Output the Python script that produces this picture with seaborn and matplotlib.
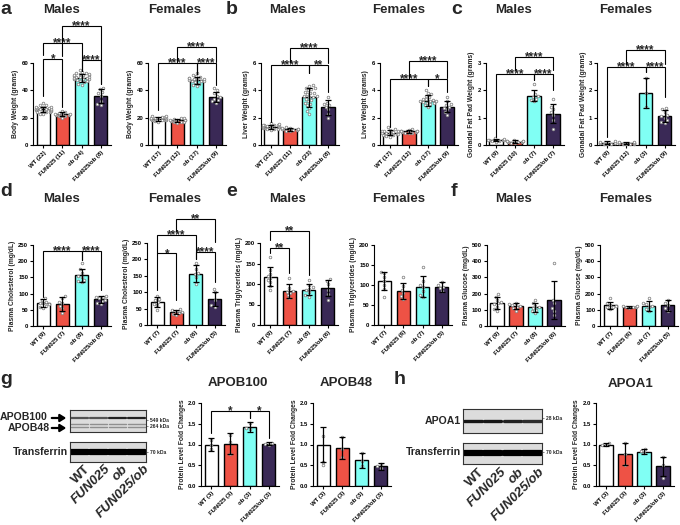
import warnings
warnings.filterwarnings("ignore")
import numpy as np
import pandas as pd
import matplotlib
matplotlib.use("Agg")
import matplotlib.pyplot as plt
import seaborn as sns

sns.set_theme(style="ticks")
plt.rcParams['font.family'] = ['Liberation Sans', 'DejaVu Sans']
plt.rcParams['font.weight'] = 'bold'
plt.rcParams['axes.labelweight'] = 'bold'

# ---------------- data ----------------
groups = ["WT", "FUN025", "ob", "FUN025/ob"]
palette = ["#FFFFFF", "#EE5245", "#80FFF4", "#3A2956"]

# a: body weight (grams)
bw_m_mean = [26, 22.5, 49, 36]
bw_m_sd = [2, 1.6, 2.8, 5]
bw_m_pts = [[22.5, 23, 24, 24, 24.5, 25, 25, 25.5, 25.5, 26, 26, 26, 26.5, 26.5, 27, 27, 27.5, 28, 28, 29, 29.5, 31],
            [20, 21, 21.5, 22, 22, 22.5, 23, 23, 23.5, 24, 25],
            [44, 45, 46, 46.5, 47, 47.5, 48, 48, 48.5, 49, 49, 49.5, 50, 50, 50.5, 51, 51, 51.5, 52, 52, 52.5, 53, 53.5, 55],
            [29, 30, 32, 36, 38, 39, 41, 42]]
bw_f_mean = [19, 18, 47.5, 35]
bw_f_sd = [1.3, 1.3, 2.5, 3.5]
bw_f_pts = [[17, 17.5, 18, 18, 18.5, 18.5, 19, 19, 19, 19.5, 19.5, 20, 20, 20.5, 20.5, 21, 21],
            [16, 16.5, 17, 17, 17.5, 18, 18, 18.5, 18.5, 19, 19.5, 20],
            [43, 44, 45, 46, 46.5, 47, 47, 47.5, 48, 48, 48.5, 49, 49, 50, 50.5, 51, 53],
            [31, 32, 33, 34, 35, 36, 38, 40, 42]]
# b: liver weight (grams)
lw_m_mean = [1.35, 1.15, 3.5, 2.75]
lw_m_sd = [0.15, 0.12, 0.7, 0.55]
lw_m_pts = [[1.1, 1.15, 1.2, 1.2, 1.25, 1.25, 1.3, 1.3, 1.3, 1.35, 1.35, 1.35, 1.4, 1.4, 1.4, 1.45, 1.45, 1.5, 1.5, 1.55, 1.6],
            [1.0, 1.05, 1.1, 1.1, 1.15, 1.15, 1.2, 1.2, 1.25, 1.25, 1.3],
            [2.3, 2.5, 2.7, 2.9, 3.0, 3.1, 3.2, 3.3, 3.4, 3.5, 3.5, 3.6, 3.6, 3.7, 3.8, 3.8, 3.9, 4.0, 4.1, 4.2, 4.2, 4.3, 4.4],
            [2.0, 2.3, 2.6, 2.8, 2.9, 3.0, 3.1, 3.5]]
lw_f_mean = [0.9, 1.0, 3.25, 2.8]
lw_f_sd = [0.2, 0.12, 0.4, 0.4]
lw_f_pts = [[0.6, 0.65, 0.7, 0.75, 0.8, 0.8, 0.85, 0.9, 0.9, 0.95, 0.95, 1.0, 1.0, 1.05, 1.1, 1.15, 1.3],
            [0.85, 0.9, 0.9, 0.95, 0.95, 1.0, 1.0, 1.0, 1.05, 1.05, 1.1, 1.15],
            [2.8, 2.9, 3.0, 3.05, 3.1, 3.15, 3.2, 3.2, 3.25, 3.3, 3.35, 3.4, 3.5, 3.6, 3.7, 3.8, 4.0],
            [2.2, 2.4, 2.6, 2.7, 2.8, 2.9, 3.0, 3.2, 3.5]]
# c: gonadal fat pad weight (grams)
gf_m_mean = [0.18, 0.12, 1.8, 1.15]
gf_m_sd = [0.05, 0.05, 0.2, 0.35]
gf_m_pts = [[0.12, 0.14, 0.15, 0.17, 0.18, 0.19, 0.2, 0.22, 0.24],
            [0.06, 0.08, 0.1, 0.11, 0.12, 0.13, 0.14, 0.15, 0.16, 0.18],
            [1.6, 1.65, 1.7, 1.75, 1.8, 1.85, 2.25],
            [0.6, 0.9, 1.1, 1.2, 1.3, 1.4, 1.7]]
gf_f_mean = [0.08, 0.07, 1.9, 1.05]
gf_f_sd = [0.05, 0.04, 0.55, 0.22]
gf_f_pts = [[0.03, 0.04, 0.05, 0.06, 0.07, 0.08, 0.09, 0.11, 0.14],
            [0.03, 0.04, 0.05, 0.05, 0.06, 0.06, 0.07, 0.07, 0.08, 0.09, 0.1, 0.12],
            [1.38, 1.9, 2.45],
            [0.8, 0.85, 0.9, 1.0, 1.05, 1.1, 1.2, 1.3, 1.35]]
# d: plasma cholesterol (mg/dL)
ch_m_mean = [70, 68, 157, 82]
ch_m_sd = [12, 22, 20, 10]
ch_m_pts = [[55, 60, 63, 67, 70, 72, 75, 80, 85],
            [40, 55, 62, 70, 75, 85, 93],
            [135, 138, 142, 150, 155, 165, 175, 195],
            [68, 72, 78, 80, 85, 88, 90, 93]]
ch_f_mean = [70, 40, 157, 80]
ch_f_sd = [15, 7, 25, 22]
ch_f_pts = [[45, 60, 65, 70, 75, 80, 88],
            [30, 33, 38, 40, 43, 45, 48],
            [125, 145, 155, 160, 170, 190],
            [55, 60, 75, 100, 110]]
# e: plasma triglycerides (mg/dL)
tg_m_mean = [118, 83, 86, 90]
tg_m_sd = [23, 17, 13, 20]
tg_m_pts = [[85, 95, 105, 110, 115, 120, 125, 135, 165],
            [65, 72, 78, 80, 82, 90, 115],
            [68, 72, 80, 85, 88, 92, 98, 110],
            [60, 75, 85, 100, 108, 112]]
tg_f_mean = [110, 85, 96, 95]
tg_f_sd = [23, 21, 26, 12]
tg_f_pts = [[70, 90, 100, 110, 120, 130, 133],
            [65, 72, 80, 88, 98, 120],
            [70, 75, 85, 95, 100, 110, 145],
            [85, 92, 95, 100, 108]]
# f: plasma glucose (mg/dL)
gl_m_mean = [142, 122, 115, 160]
gl_m_sd = [40, 20, 30, 115]
gl_m_pts = [[95, 105, 120, 135, 140, 150, 160, 180, 195],
            [95, 110, 120, 125, 130, 135, 145],
            [80, 90, 100, 110, 115, 125, 140, 160],
            [70, 95, 110, 140, 160, 390]]
gl_f_mean = [128, 118, 125, 128]
gl_f_sd = [22, 8, 30, 35]
gl_f_pts = [[105, 115, 120, 125, 130, 140, 170],
            [110, 115, 118, 120, 122, 125],
            [90, 105, 120, 125, 135, 140, 175],
            [95, 110, 130, 145, 160]]
# g/h: protein level fold changes
apob100_mean = [1.0, 1.02, 1.43, 1.02]
apob100_sd = [0.15, 0.25, 0.12, 0.04]
apob100_pts = [[0.88, 1.0, 1.12], [0.78, 1.05, 1.22], [1.38, 1.4, 1.52], [1.0, 1.02, 1.04]]
apob48_mean = [1.0, 0.92, 0.62, 0.47]
apob48_sd = [0.43, 0.27, 0.18, 0.08]
apob48_pts = [[0.5, 0.58, 1.2], [0.7, 0.88, 1.17], [0.48, 0.6, 0.8], [0.44, 0.47, 0.52]]
apoa1_mean = [1.0, 0.77, 0.83, 0.47]
apoa1_sd = [0.04, 0.27, 0.06, 0.23]
apoa1_pts = [[0.98, 1.0, 1.03], [0.5, 0.77, 1.04], [0.8, 0.85, 0.88], [0.2, 0.5, 0.7]]

# blot band intensities (0..1, darkness) per lane
apob100_band = [0.62, 0.62, 0.85, 0.85]
apob48_band = [0.35, 0.35, 0.35, 0.35]
apoa1_band = [0.9, 0.9, 0.85, 0.8]
transferrin_band = [1.0, 1.0, 1.0, 1.0]

# ---------------- figure ----------------
W, H = 680, 525
fig = plt.figure(figsize=(6.8, 5.25), dpi=100)


def ftext(x, y, s, **kw):
    return fig.text(x / W, 1 - y / H, s, **kw)


def bracket(ax, i, j, y, yi, yj, label):
    ax.plot([i, i, j, j], [yi, y, y, yj], color="black", lw=0.8,
            clip_on=False, solid_joinstyle="miter", zorder=5)
    ax.annotate(label, ((i + j) / 2, y), xytext=(0, -2.3), textcoords="offset points",
                ha="center", va="baseline", fontsize=8.5, fontweight="bold",
                annotation_clip=False)


def panel(x0, ybot, ytop, top, yticks, fmt, means, sds, pts, ylabel, brackets):
    ax = fig.add_axes([x0 / W, 1 - ybot / H, 78 / W, (ybot - ytop) / H])
    df = pd.DataFrame({"g": groups, "v": means})
    sns.barplot(data=df, x="g", y="v", hue="g", order=groups, hue_order=groups,
                palette=palette, width=0.7, edgecolor="black", linewidth=1.0,
                saturation=1, errorbar=None, legend=False, ax=ax, zorder=2)
    pdf = pd.DataFrame({"g": np.repeat(groups, [len(p) for p in pts]),
                        "v": np.concatenate(pts)})
    sns.swarmplot(data=pdf, x="g", y="v", order=groups, color="white",
                  edgecolor="#808080", linewidth=0.55, size=1.9, ax=ax, zorder=3,
                  clip_on=False)
    ax.errorbar(range(4), means, yerr=sds, fmt="none", ecolor="black",
                elinewidth=0.9, capsize=2.3, capthick=0.9, zorder=4, clip_on=False)
    ax.set_xlim(-0.55, 3.55)
    ax.set_ylim(0, top)
    ax.set_yticks(yticks)
    ax.set_yticklabels([fmt.format(t) for t in yticks])
    ax.set_xticks(range(4))
    ax.set_xticklabels([f"{g} ({len(p)})" for g, p in zip(groups, pts)],
                       rotation=45, ha="right", rotation_mode="anchor")
    ax.tick_params(labelsize=4.3, length=2.2, width=0.8, pad=1.2, colors="black")
    ax.set_xlabel("")
    ax.set_ylabel(ylabel, fontsize=4.9, labelpad=1.5, fontweight="bold")
    sns.despine(ax=ax)
    for s in ["left", "bottom"]:
        ax.spines[s].set_linewidth(0.8)
        ax.spines[s].set_color("black")
    for b in brackets:
        bracket(ax, *b)
    return ax


# row 1
panel(33, 145, 63, 60, [0, 20, 40, 60], "{:.0f}", bw_m_mean, bw_m_sd, bw_m_pts,
      "Body Weight (grams)",
      [(0, 1, 63, 35.5, 27.7, "*"), (0, 2, 75, 66, 54, "****"),
       (1, 3, 87, 65, 45, "****"), (2, 3, 62, 54, 45, "****")])
panel(148, 145, 63, 60, [0, 20, 40, 60], "{:.0f}", bw_f_mean, bw_f_sd, bw_f_pts,
      "Body Weight (grams)",
      [(1, 3, 72, 61, 61, "****"), (0, 2, 60, 25.7, 52, "****"),
       (2, 3, 60, 52, 44, "****")])
panel(260.5, 145, 63, 6, [0, 2, 4, 6], "{:.0f}", lw_m_mean, lw_m_sd, lw_m_pts,
      "Liver Weight (grams)",
      [(1, 3, 7.1, 6.1, 6.0, "****"), (0, 2, 5.83, 1.7, 5.27, "****"),
       (2, 3, 5.83, 5.27, 3.9, "**")])
panel(379.5, 145, 63, 6, [0, 2, 4, 6], "{:.0f}", lw_f_mean, lw_f_sd, lw_f_pts,
      "Liver Weight (grams)",
      [(1, 3, 6.12, 4.9, 4.9, "****"), (0, 2, 4.85, 1.3, 4.3, "****"),
       (2, 3, 4.85, 4.3, 3.9, "*")])
panel(485.5, 145, 63, 3, [0, 1, 2, 3], "{:.0f}", gf_m_mean, gf_m_sd, gf_m_pts,
      "Gonadal Fat Pad Weight (grams)",
      [(1, 3, 3.22, 2.73, 2.73, "****"), (0, 2, 2.59, 0.3, 2.37, "****"),
       (2, 3, 2.59, 2.37, 2.0, "****")])
panel(597, 145, 63, 3, [0, 1, 2, 3], "{:.0f}", gf_f_mean, gf_f_sd, gf_f_pts,
      "Gonadal Fat Pad Weight (grams)",
      [(1, 3, 3.46, 2.98, 2.98, "****"), (0, 2, 2.86, 0.3, 2.67, "****"),
       (2, 3, 2.86, 2.67, 1.76, "****")])
# row 2
panel(33, 326, 245, 250, [0, 50, 100, 150, 200, 250], "{:.0f}", ch_m_mean, ch_m_sd, ch_m_pts,
      "Plasma Cholesterol (mg/dL)",
      [(0, 2, 231, 90, 204, "****"), (2, 3, 231, 204, 111, "****")])
panel(147, 325, 243, 250, [0, 50, 100, 150, 200, 250], "{:.0f}", ch_f_mean, ch_f_sd, ch_f_pts,
      "Plasma Cholesterol (mg/dL)",
      [(1, 3, 324, 288, 253, "**"), (0, 2, 273, 218, 202, "****"),
       (0, 1, 218, 106, 76, "*"), (2, 3, 223, 202, 132, "****")])
panel(260, 325, 243, 200, [0, 50, 100, 150, 200], "{:.0f}", tg_m_mean, tg_m_sd, tg_m_pts,
      "Plasma Triglycerides (mg/dL)",
      [(0, 2, 229, 208, 122, "**"), (0, 1, 189, 176, 127, "**")])
panel(374, 325, 245, 200, [0, 50, 100, 150, 200], "{:.0f}", tg_f_mean, tg_f_sd, tg_f_pts,
      "Plasma Triglycerides (mg/dL)", [])
panel(486.5, 326, 245, 500, [0, 100, 200, 300, 400, 500], "{:.0f}", gl_m_mean, gl_m_sd, gl_m_pts,
      "Plasma Glucose (mg/dL)", [])
panel(600, 326, 245, 500, [0, 100, 200, 300, 400, 500], "{:.0f}", gl_f_mean, gl_f_sd, gl_f_pts,
      "Plasma Glucose (mg/dL)", [])
# row 3
fold_ticks = [0, 0.5, 1.0, 1.5, 2.0]
panel(201, 486, 403, 2.0, fold_ticks, "{:.1f}", apob100_mean, apob100_sd, apob100_pts,
      "Protein Level Fold Changes",
      [(0, 2, 1.81, 1.28, 1.65, "*"), (2, 3, 1.81, 1.65, 1.15, "*")])
panel(313, 486, 403, 2.0, fold_ticks, "{:.1f}", apob48_mean, apob48_sd, apob48_pts,
      "Protein Level Fold Changes", [])
panel(595.5, 486, 403, 2.0, fold_ticks, "{:.1f}", apoa1_mean, apoa1_sd, apoa1_pts,
      "Protein Level Fold Changes", [])

# titles
tkw = dict(ha="center", va="center", fontsize=9.5, fontweight="bold")
for x, y, s in [(62, 10, "Males"), (175, 10, "Females"), (288, 10, "Males"), (399, 10, "Females"),
                (513, 10, "Males"), (626, 10, "Females"),
                (62, 199, "Males"), (175, 199, "Females"), (288, 199, "Males"), (399, 199, "Females"),
                (513, 199, "Males"), (626, 199, "Females"),
                (238, 383, "APOB100"), (346, 383, "APOB48"), (631, 384, "APOA1")]:
    ftext(x, y, s, **tkw)

lkw = dict(ha="left", va="center", fontsize=14, fontweight="bold")
for x, y, s in [(0, 9, "a"), (226, 9, "b"), (451, 9, "c"), (0, 191, "d"), (226, 191, "e"),
                (451, 191, "f"), (0, 379, "g"), (394, 380, "h")]:
    ftext(x, y, s, **lkw)


# blots
def blot(x0, y0, x1, y1, bands):
    ax = fig.add_axes([x0 / W, 1 - y1 / H, (x1 - x0) / W, (y1 - y0) / H])
    ax.set_xlim(0, 4)
    ax.set_ylim(y1, y0)
    ax.set_facecolor("#dcdcdc")
    ax.set_xticks([])
    ax.set_yticks([])
    for sp in ax.spines.values():
        sp.set_visible(True)
        sp.set_linewidth(0.8)
        sp.set_color("#333333")
    for ypos, thick, vals in bands:
        for i, v in enumerate(vals):
            c = str(0.86 * (1 - v))
            ax.plot([i + 0.06, i + 0.94], [ypos, ypos], color=c, lw=thick,
                    solid_capstyle="round")
    return ax


blot(70, 410, 146, 432, [(418.5, 1.6, apob100_band), (424, 1.0, apob48_band),
                          (427.5, 1.0, apob48_band)])
blot(70, 442, 146, 462, [(452, 4.5, transferrin_band)])
blot(463, 409, 542, 433, [(421, 2.4, apoa1_band)])
blot(463, 443, 542, 464, [(453, 4.5, transferrin_band)])

bkw = dict(fontsize=7.6, fontweight="bold", va="center")
ftext(0, 417, "APOB100", ha="left", **bkw)
ftext(8, 428, "APOB48", ha="left", **bkw)
ftext(68, 452, "Transferrin", ha="right", **bkw)
ftext(461, 421, "APOA1", ha="right", **bkw)
ftext(461, 452, "Transferrin", ha="right", **bkw)
for y in (418, 428):
    fig.add_artist(matplotlib.patches.FancyArrowPatch(
        (49 / W, 1 - y / H), (69 / W, 1 - y / H), transform=fig.transFigure,
        arrowstyle="-|>,head_length=3.5,head_width=2.2", lw=1.6, color="black"))

kkw = dict(fontsize=3.6, fontweight="bold", va="center", ha="left")
ftext(147, 420, "- 549 kDa", **kkw)
ftext(147, 426, "- 264 kDa", **kkw)
ftext(147, 453, "- 70 kDa", **kkw)
ftext(543, 419, "- 28 kDa", **kkw)
ftext(543, 453, "- 70 kDa", **kkw)

lane_kw = dict(fontsize=9.5, fontweight="bold", rotation=45, ha="right", va="top",
               rotation_mode="anchor")
for (xs, y) in [([84, 104, 122, 143], 463), ([478, 500, 518, 538], 466)]:
    for x, g in zip(xs, groups):
        ftext(x, y, g, style=("normal" if g == "WT" else "italic"), **lane_kw)

fig.savefig("out.png", dpi=100)
